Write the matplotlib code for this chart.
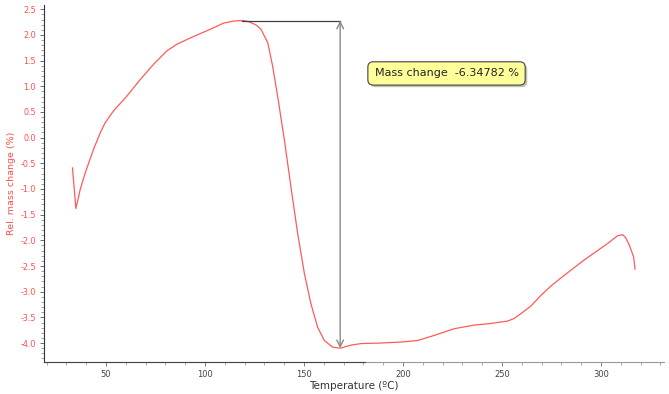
import matplotlib
matplotlib.use('Agg')
import matplotlib.pyplot as plt
import matplotlib.patheffects as pe
from matplotlib.ticker import MultipleLocator

# temperature (degC) and relative mass change (%)
temp = [33.1, 34.0, 34.8, 35.8, 37.0, 39.5, 43.7, 47.1, 49.6, 53.8, 60.6, 67.3,
        74.1, 80.8, 85.9, 94.3, 102.7, 109.5, 114.5, 118.8, 121.0, 123.2, 126.0,
        128.3, 131.7, 134.2, 136.7, 140.1, 143.4, 146.8, 150.2, 153.5, 156.9,
        160.3, 164.5, 168.3, 173.7, 178.8, 188.0, 199.0, 207.4, 215.8, 225.9,
        236.0, 244.0, 249.5, 253.0, 256.2, 258.0, 260.5, 264.6, 269.7, 275.0,
        281.5, 291.6, 303.4, 308.4, 311.0, 312.5, 314.3, 316.5, 317.2]
mass = [-0.59, -1.00, -1.38, -1.22, -1.01, -0.69, -0.23, 0.09, 0.29, 0.52, 0.81, 1.13,
        1.43, 1.69, 1.82, 1.97, 2.11, 2.23, 2.27, 2.28, 2.27, 2.24, 2.19,
        2.11, 1.85, 1.39, 0.81, -0.04, -0.95, -1.86, -2.64, -3.23, -3.69,
        -3.95, -4.08, -4.10, -4.04, -4.01, -4.00, -3.98, -3.95, -3.85, -3.72,
        -3.65, -3.62, -3.59, -3.57, -3.52, -3.47, -3.40, -3.28, -3.07, -2.88,
        -2.68, -2.38, -2.06, -1.91, -1.89, -1.95, -2.09, -2.32, -2.56]
mass_change_label = 'Mass change  -6.34782 %'

red = '#ff4d4d'
fig = plt.figure(figsize=(6.69, 3.94), dpi=100)
ax = fig.add_axes([0.066, 0.081, 0.927, 0.906])

ax.plot(temp, mass, color='#ff5a5a', linewidth=0.9)

ax.set_xlim(18.8, 332)
ax.set_ylim(-4.37, 2.58)

# measurement step: horizontal line from the peak and double arrow at the minimum
i_max = mass.index(max(mass))
i_min = mass.index(min(mass))
x_arrow = temp[i_min]
ax.plot([temp[i_max], x_arrow], [mass[i_max], mass[i_max]], color='#404040', linewidth=0.9)
ax.annotate('', xy=(x_arrow, mass[i_max]), xytext=(x_arrow, mass[i_min]),
            arrowprops=dict(arrowstyle='<->', color='#888888', lw=1.0,
                            shrinkA=0, shrinkB=0, mutation_scale=12))

t = ax.text(222, 1.25, mass_change_label, fontsize=8, color='#222222',
            ha='center', va='center',
            bbox=dict(boxstyle='round,pad=0.6,rounding_size=0.5',
                      facecolor='#ffff9a', edgecolor='#555555', linewidth=0.9))
t.get_bbox_patch().set_path_effects([
    pe.SimplePatchShadow(offset=(1.5, -1.5), alpha=0.35), pe.Normal()])

# axes styling
ax.spines['top'].set_visible(False)
ax.spines['right'].set_visible(False)
ax.spines['left'].set_color('#333333')
ax.spines['bottom'].set_color('#999999')
# the left part of the bottom axis is drawn darker in the original
ax.plot([0, 0.518], [0, 0], transform=ax.transAxes, color='#444444',
        linewidth=0.8, clip_on=False, zorder=3)

ax.xaxis.set_major_locator(MultipleLocator(50))
ax.xaxis.set_minor_locator(MultipleLocator(10))
ax.yaxis.set_major_locator(MultipleLocator(0.5))
ax.yaxis.set_minor_locator(MultipleLocator(0.1))

ax.tick_params(axis='x', which='major', direction='out', length=3, width=0.6,
               colors='#666666', labelsize=6, labelcolor='#444444', pad=3)
ax.tick_params(axis='x', which='minor', direction='out', length=2, width=0.5, colors='#888888')
ax.tick_params(axis='y', which='major', direction='out', length=3, width=0.6,
               colors='#555555', labelsize=5.8, labelcolor=red, pad=3)
ax.tick_params(axis='y', which='minor', direction='out', length=2, width=0.5, colors='#777777')
ax.yaxis.set_major_formatter(plt.FuncFormatter(lambda v, p: f'{v:.1f}'))

ax.set_xlabel('Temperature (ºC)', fontsize=7.5, color='#333333', labelpad=1)
ax.set_ylabel('Rel. mass change (%)', fontsize=6.8, color=red, labelpad=3)

fig.savefig('out.png', dpi=100)
